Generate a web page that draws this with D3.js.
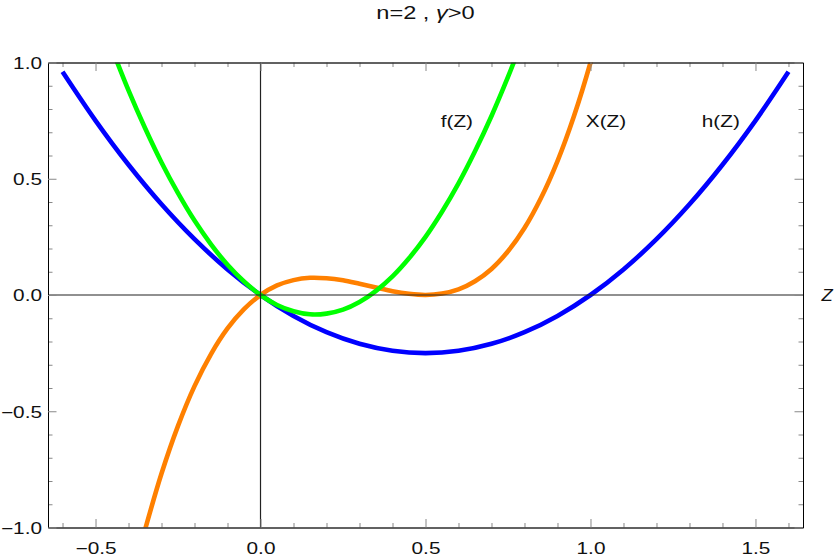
<!DOCTYPE html>
<html>
<head>
<meta charset="utf-8">
<script src="https://cdn.jsdelivr.net/npm/d3@7"></script>
<style>
  body { margin: 0; background: #fff; }
  svg { display: block; font-family: "Liberation Sans", Arial, sans-serif; }
</style>
</head>
<body>
<svg id="chart"></svg>
<script>
// values
const hZ = [-0.6, -0.5, -0.4, -0.3, -0.2, -0.1, 0, 0.1, 0.2, 0.3, 0.4, 0.5, 0.6, 0.7, 0.8, 0.9, 1.0, 1.1, 1.2, 1.3, 1.4, 1.5, 1.6];
const hVal = [0.96, 0.75, 0.56, 0.39, 0.24, 0.11, 0, -0.09, -0.16, -0.21, -0.24, -0.25, -0.24, -0.21, -0.16, -0.09, 0, 0.11, 0.24, 0.39, 0.56, 0.75, 0.96];

const xZ = [-0.35, -0.3, -0.25, -0.2, -0.15, -0.1, -0.05, 0, 0.05, 0.1, 0.15, 0.2, 0.25, 0.3, 0.35, 0.4, 0.45, 0.5, 0.55, 0.6, 0.65, 0.7, 0.75, 0.8, 0.85, 0.9, 0.95, 1.0, 1.05];
const xVal = [-1.01, -0.768, -0.563, -0.392, -0.254, -0.144, -0.061, 0, 0.041, 0.064, 0.074, 0.072, 0.063, 0.048, 0.032, 0.016, 0.005, 0, 0.006, 0.024, 0.059, 0.112, 0.188, 0.288, 0.417, 0.576, 0.77, 1.0, 1.27];

const fZ = [-0.45, -0.4, -0.35, -0.3, -0.25, -0.2, -0.15, -0.1, -0.05, 0, 0.05, 0.1, 0.15, 0.2, 0.25, 0.3, 0.35, 0.4, 0.45, 0.5, 0.55, 0.6, 0.65, 0.7, 0.75, 0.8];
const fVal = [1.058, 0.88, 0.718, 0.57, 0.438, 0.32, 0.218, 0.13, 0.058, 0, -0.043, -0.07, -0.083, -0.08, -0.063, -0.03, 0.018, 0.08, 0.158, 0.25, 0.358, 0.48, 0.618, 0.77, 0.938, 1.12];

const seriesNames = ["h(Z)", "X(Z)", "f(Z)"];
const seriesColors = ["#0000ff", "#ff8000", "#00ff00"];
const labelZ = [1.395, 1.047, 0.595];
const labelY = [0.745, 0.745, 0.745];

const xMajor = [-0.5, 0, 0.5, 1, 1.5];
const yMajor = [-1, -0.5, 0, 0.5, 1];

const W = 837, H = 557;
const margin = { top: 62.5, right: 34, bottom: 29.5, left: 48 };
const sx = 1.3; // glyphs in the reference are stretched sideways

const svg = d3.select("#chart").attr("width", W).attr("height", H);

const x = d3.scaleLinear().domain([-0.644, 1.644]).range([margin.left, W - margin.right]);
const y = d3.scaleLinear().domain([-1, 1]).range([H - margin.bottom, margin.top]);

const xMinor = d3.range(-6, 17).map(d => d / 10).filter(d => !xMajor.some(m => Math.abs(m - d) < 1e-9));
const yMinor = d3.range(-10, 11).map(d => d / 10).filter(d => !yMajor.some(m => Math.abs(m - d) < 1e-9));

svg.append("clipPath").attr("id", "plotClip")
  .append("rect")
  .attr("x", x.range()[0]).attr("y", y.range()[1])
  .attr("width", x.range()[1] - x.range()[0])
  .attr("height", y.range()[0] - y.range()[1]);

// curves
const series = [
  hZ.map((z, i) => [z, hVal[i]]),
  xZ.map((z, i) => [z, xVal[i]]),
  fZ.map((z, i) => [z, fVal[i]])
];
const line = d3.line().x(d => x(d[0])).y(d => y(d[1])).curve(d3.curveCatmullRom.alpha(0.5));

svg.append("g").attr("clip-path", "url(#plotClip)")
  .selectAll("path")
  .data(series)
  .join("path")
  .attr("d", line)
  .attr("fill", "none")
  .attr("stroke", (d, i) => seriesColors[i])
  .attr("stroke-width", 4.6)
  .attr("stroke-linejoin", "round")
  .attr("stroke-linecap", "butt");

// zero axes on top of the curves
svg.append("line")
  .attr("x1", x.range()[0]).attr("x2", x.range()[1])
  .attr("y1", y(0)).attr("y2", y(0))
  .attr("stroke", "#222").attr("stroke-width", 1.2);
svg.append("line")
  .attr("x1", x(0)).attr("x2", x(0))
  .attr("y1", y.range()[0]).attr("y2", y.range()[1])
  .attr("stroke", "#222").attr("stroke-width", 1.2);

// frame with inward ticks
const frameColor = "#888";
function styleAxis(g) {
  g.select(".domain").attr("stroke", frameColor);
  g.selectAll(".tick line").attr("stroke", frameColor);
}
const fmt = d3.format(".1f");

const axBottom = svg.append("g").attr("transform", `translate(0,${y.range()[0]})`);
axBottom.call(d3.axisBottom(x).tickValues(xMinor).tickSizeInner(-4.5).tickSizeOuter(0).tickFormat(""));
axBottom.call(g => g.append("g").call(d3.axisBottom(x).tickValues(xMajor).tickSizeInner(-8.5).tickSizeOuter(0).tickFormat(fmt)));
axBottom.call(styleAxis);
axBottom.selectAll("text")
  .attr("y", 15).attr("dy", "0.71em")
  .attr("fill", "#111").attr("font-size", 16)
  .attr("transform", `scale(${sx},1)`)
  .style("font-family", "'Liberation Sans', Arial, sans-serif");

const axTop = svg.append("g").attr("transform", `translate(0,${y.range()[1]})`);
axTop.call(d3.axisTop(x).tickValues(xMinor).tickSizeInner(-4.5).tickSizeOuter(0).tickFormat(""));
axTop.call(g => g.append("g").call(d3.axisTop(x).tickValues(xMajor).tickSizeInner(-8.5).tickSizeOuter(0).tickFormat("")));
axTop.call(styleAxis);

const axLeft = svg.append("g").attr("transform", `translate(${x.range()[0]},0)`);
axLeft.call(d3.axisLeft(y).tickValues(yMinor).tickSizeInner(-4.5).tickSizeOuter(0).tickFormat(""));
axLeft.call(g => g.append("g").call(d3.axisLeft(y).tickValues(yMajor).tickSizeInner(-8.5).tickSizeOuter(0).tickFormat(fmt)));
axLeft.call(styleAxis);
axLeft.selectAll("text")
  .attr("x", -6 / sx).attr("dy", "0.36em")
  .attr("fill", "#111").attr("font-size", 16)
  .attr("transform", `scale(${sx},1)`)
  .style("font-family", "'Liberation Sans', Arial, sans-serif");

const axRight = svg.append("g").attr("transform", `translate(${x.range()[1]},0)`);
axRight.call(d3.axisRight(y).tickValues(yMinor).tickSizeInner(-4.5).tickSizeOuter(0).tickFormat(""));
axRight.call(g => g.append("g").call(d3.axisRight(y).tickValues(yMajor).tickSizeInner(-8.5).tickSizeOuter(0).tickFormat("")));
axRight.call(styleAxis);

// curve labels
svg.append("g")
  .selectAll("text")
  .data(seriesNames)
  .join("text")
  .attr("transform", (d, i) => `translate(${x(labelZ[i])},${y(labelY[i])}) scale(${sx},1)`)
  .attr("text-anchor", "middle")
  .attr("dy", "0.35em")
  .attr("font-size", 16)
  .attr("fill", "#111")
  .text(d => d);

// axis label
svg.append("text")
  .attr("transform", `translate(${x.range()[1] + 24},${y(0)}) scale(1.15,1)`)
  .attr("text-anchor", "middle")
  .attr("dy", "0.36em")
  .attr("font-size", 16)
  .attr("font-style", "italic")
  .attr("fill", "#111")
  .text("Z");

// title
const title = svg.append("text")
  .attr("transform", `translate(${(x.range()[0] + x.range()[1]) / 2},18.5) scale(1.35,1)`)
  .attr("text-anchor", "middle")
  .attr("font-size", 17.5)
  .attr("fill", "#111");
title.append("tspan").text("n=2 , ");
title.append("tspan").attr("font-style", "italic").text("γ");
title.append("tspan").text(">0");
</script>
</body>
</html>
